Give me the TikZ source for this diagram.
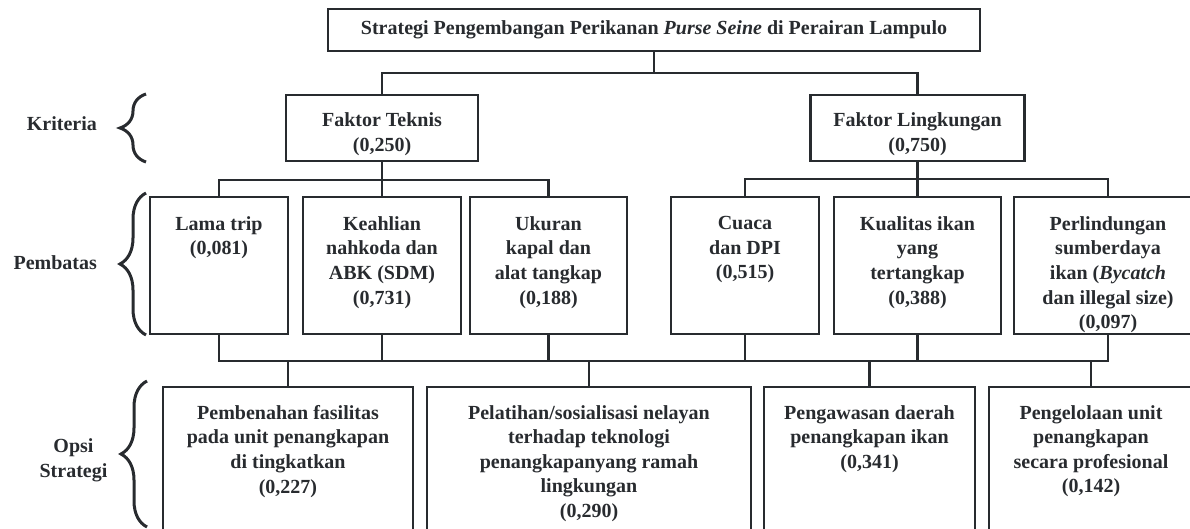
\documentclass[tikz,border=0pt]{standalone}
\usepackage{fontspec}
\setmainfont{Liberation Serif}
\usepackage{tikz}
\usetikzlibrary{positioning, decorations.pathreplacing}
\definecolor{inkgray}{RGB}{40,43,47}

\begin{document}
\begin{tikzpicture}[
    x=0.5pt, y=-0.5pt,
    line width=1.1pt,
    color=inkgray,
    font=\fontsize{10}{12.3}\selectfont\bfseries
]
\tikzset{
    box/.style = {draw, rectangle, inner sep=0pt, outer sep=0pt},
    pbox/.style = {box, minimum height=68.5pt},
    obox/.style = {box, minimum height=72pt},
    boxtext/.style = {align=center, inner sep=0pt},
    category/.style = {align=center, inner sep=0pt},
    sidebrace/.style = {decorate, decoration={brace, amplitude=13pt}, line width=1.5pt}
}

\useasboundingbox (0,0) rectangle (1190,529);

% Goal
\node[box, minimum width=326pt, minimum height=21pt] (strategi) at (654,30)
    {Strategi Pengembangan Perikanan \textit{Purse Seine} di Perairan Lampulo};

% Criteria
\node[box, minimum width=96pt, minimum height=33pt] (teknis) at (382,128) {};
\node[boxtext, below=8.3pt of teknis.north] (teknis-text) {Faktor Teknis\\(0,250)};
\node[box, minimum width=107pt, minimum height=33pt] (lingkungan) at (917.5,128) {};
\node[boxtext, below=8.3pt of lingkungan.north] (lingkungan-text) {Faktor Lingkungan\\(0,750)};

% Constraints (Pembatas)
\node[pbox, minimum width=69pt] (lama) at (219,265.5) {};
\node[pbox, minimum width=79pt, right=7.5pt of lama] (keahlian) {};
\node[pbox, minimum width=78.5pt, right=4.5pt of keahlian] (ukuran) {};
\node[pbox, minimum width=74pt, right=22pt of ukuran] (cuaca) {};
\node[pbox, minimum width=83.5pt, right=7.5pt of cuaca] (kualitas) {};
\node[pbox, minimum width=94pt, right=6.5pt of kualitas] (perlindungan) {};

\node[boxtext, below=9.2pt of lama.north] (lama-text) {Lama trip\\(0,081)};
\node[boxtext, below=9.2pt of keahlian.north] (keahlian-text) {Keahlian\\nahkoda dan\\ABK (SDM)\\(0,731)};
\node[boxtext, below=9.2pt of ukuran.north] (ukuran-text) {Ukuran\\kapal dan\\alat tangkap\\(0,188)};
\node[boxtext, below=9.2pt of cuaca.north] (cuaca-text) {Cuaca\\dan DPI\\(0,515)};
\node[boxtext, below=9.2pt of kualitas.north] (kualitas-text) {Kualitas ikan\\yang\\tertangkap\\(0,388)};
\node[boxtext, below=9.2pt of perlindungan.north] (perlindungan-text) {Perlindungan\\sumberdaya\\ikan (\textit{Bycatch}\\dan illegal size)\\(0,097)};

% Strategy options
\node[obox, minimum width=125pt] (pembenahan) at (288,459) {};
\node[obox, minimum width=162pt, right=7pt of pembenahan] (pelatihan) {};
\node[obox, minimum width=105.5pt, right=6.5pt of pelatihan] (pengawasan) {};
\node[obox, minimum width=102pt, right=7pt of pengawasan] (pengelolaan) {};

\node[boxtext, below=8.6pt of pembenahan.north] (pembenahan-text) {Pembenahan fasilitas\\pada unit penangkapan\\di tingkatkan\\(0,227)};
\node[boxtext, below=8.6pt of pelatihan.north] (pelatihan-text) {Pelatihan/sosialisasi nelayan\\terhadap teknologi\\penangkapanyang ramah\\lingkungan\\(0,290)};
\node[boxtext, below=8.6pt of pengawasan.north] (pengawasan-text) {Pengawasan daerah\\penangkapan ikan\\(0,341)};
\node[boxtext, below=8.6pt of pengelolaan.north] (pengelolaan-text) {Pengelolaan unit\\penangkapan\\secara profesional\\(0,142)};

% Level labels with braces
\node[category, anchor=base east] (kriteria) at (98,131) {Kriteria};
\node[category, anchor=base east] (pembatas) at (98,270) {Pembatas};
\node[category, anchor=north] (opsi) at (73.5,438) {Opsi\\Strategi};

\draw[sidebrace] (146,162) -- (146,94);
\draw[sidebrace] (146,335) -- (146,193);
\draw[sidebrace] (147,527) -- (147,381);

% Goal to criteria
\draw (strategi.south) -- ++(0,22);
\draw (teknis.north) -- ++(0,-22) -| (lingkungan.north);

% Criteria to constraints
\draw (teknis.south) -- (keahlian.north);
\draw (lama.north) -- ++(0,-17) -| (ukuran.north);
\draw (lingkungan.south) -- (kualitas.north);
\draw (cuaca.north) -- ++(0,-18) -| (perlindungan.north);

% Constraints to options
\draw (lama.south) -- ++(0,27) -| (perlindungan.south);
\draw (keahlian.south) -- ++(0,27);
\draw (ukuran.south) -- ++(0,27);
\draw (cuaca.south) -- ++(0,27);
\draw (kualitas.south) -- ++(0,27);
\draw (pembenahan.north) -- ++(0,-26);
\draw (pelatihan.north) -- ++(0,-26);
\draw (pengawasan.north) -- ++(0,-26);
\draw (pengelolaan.north) -- ++(0,-26);

\end{tikzpicture}
\end{document}
